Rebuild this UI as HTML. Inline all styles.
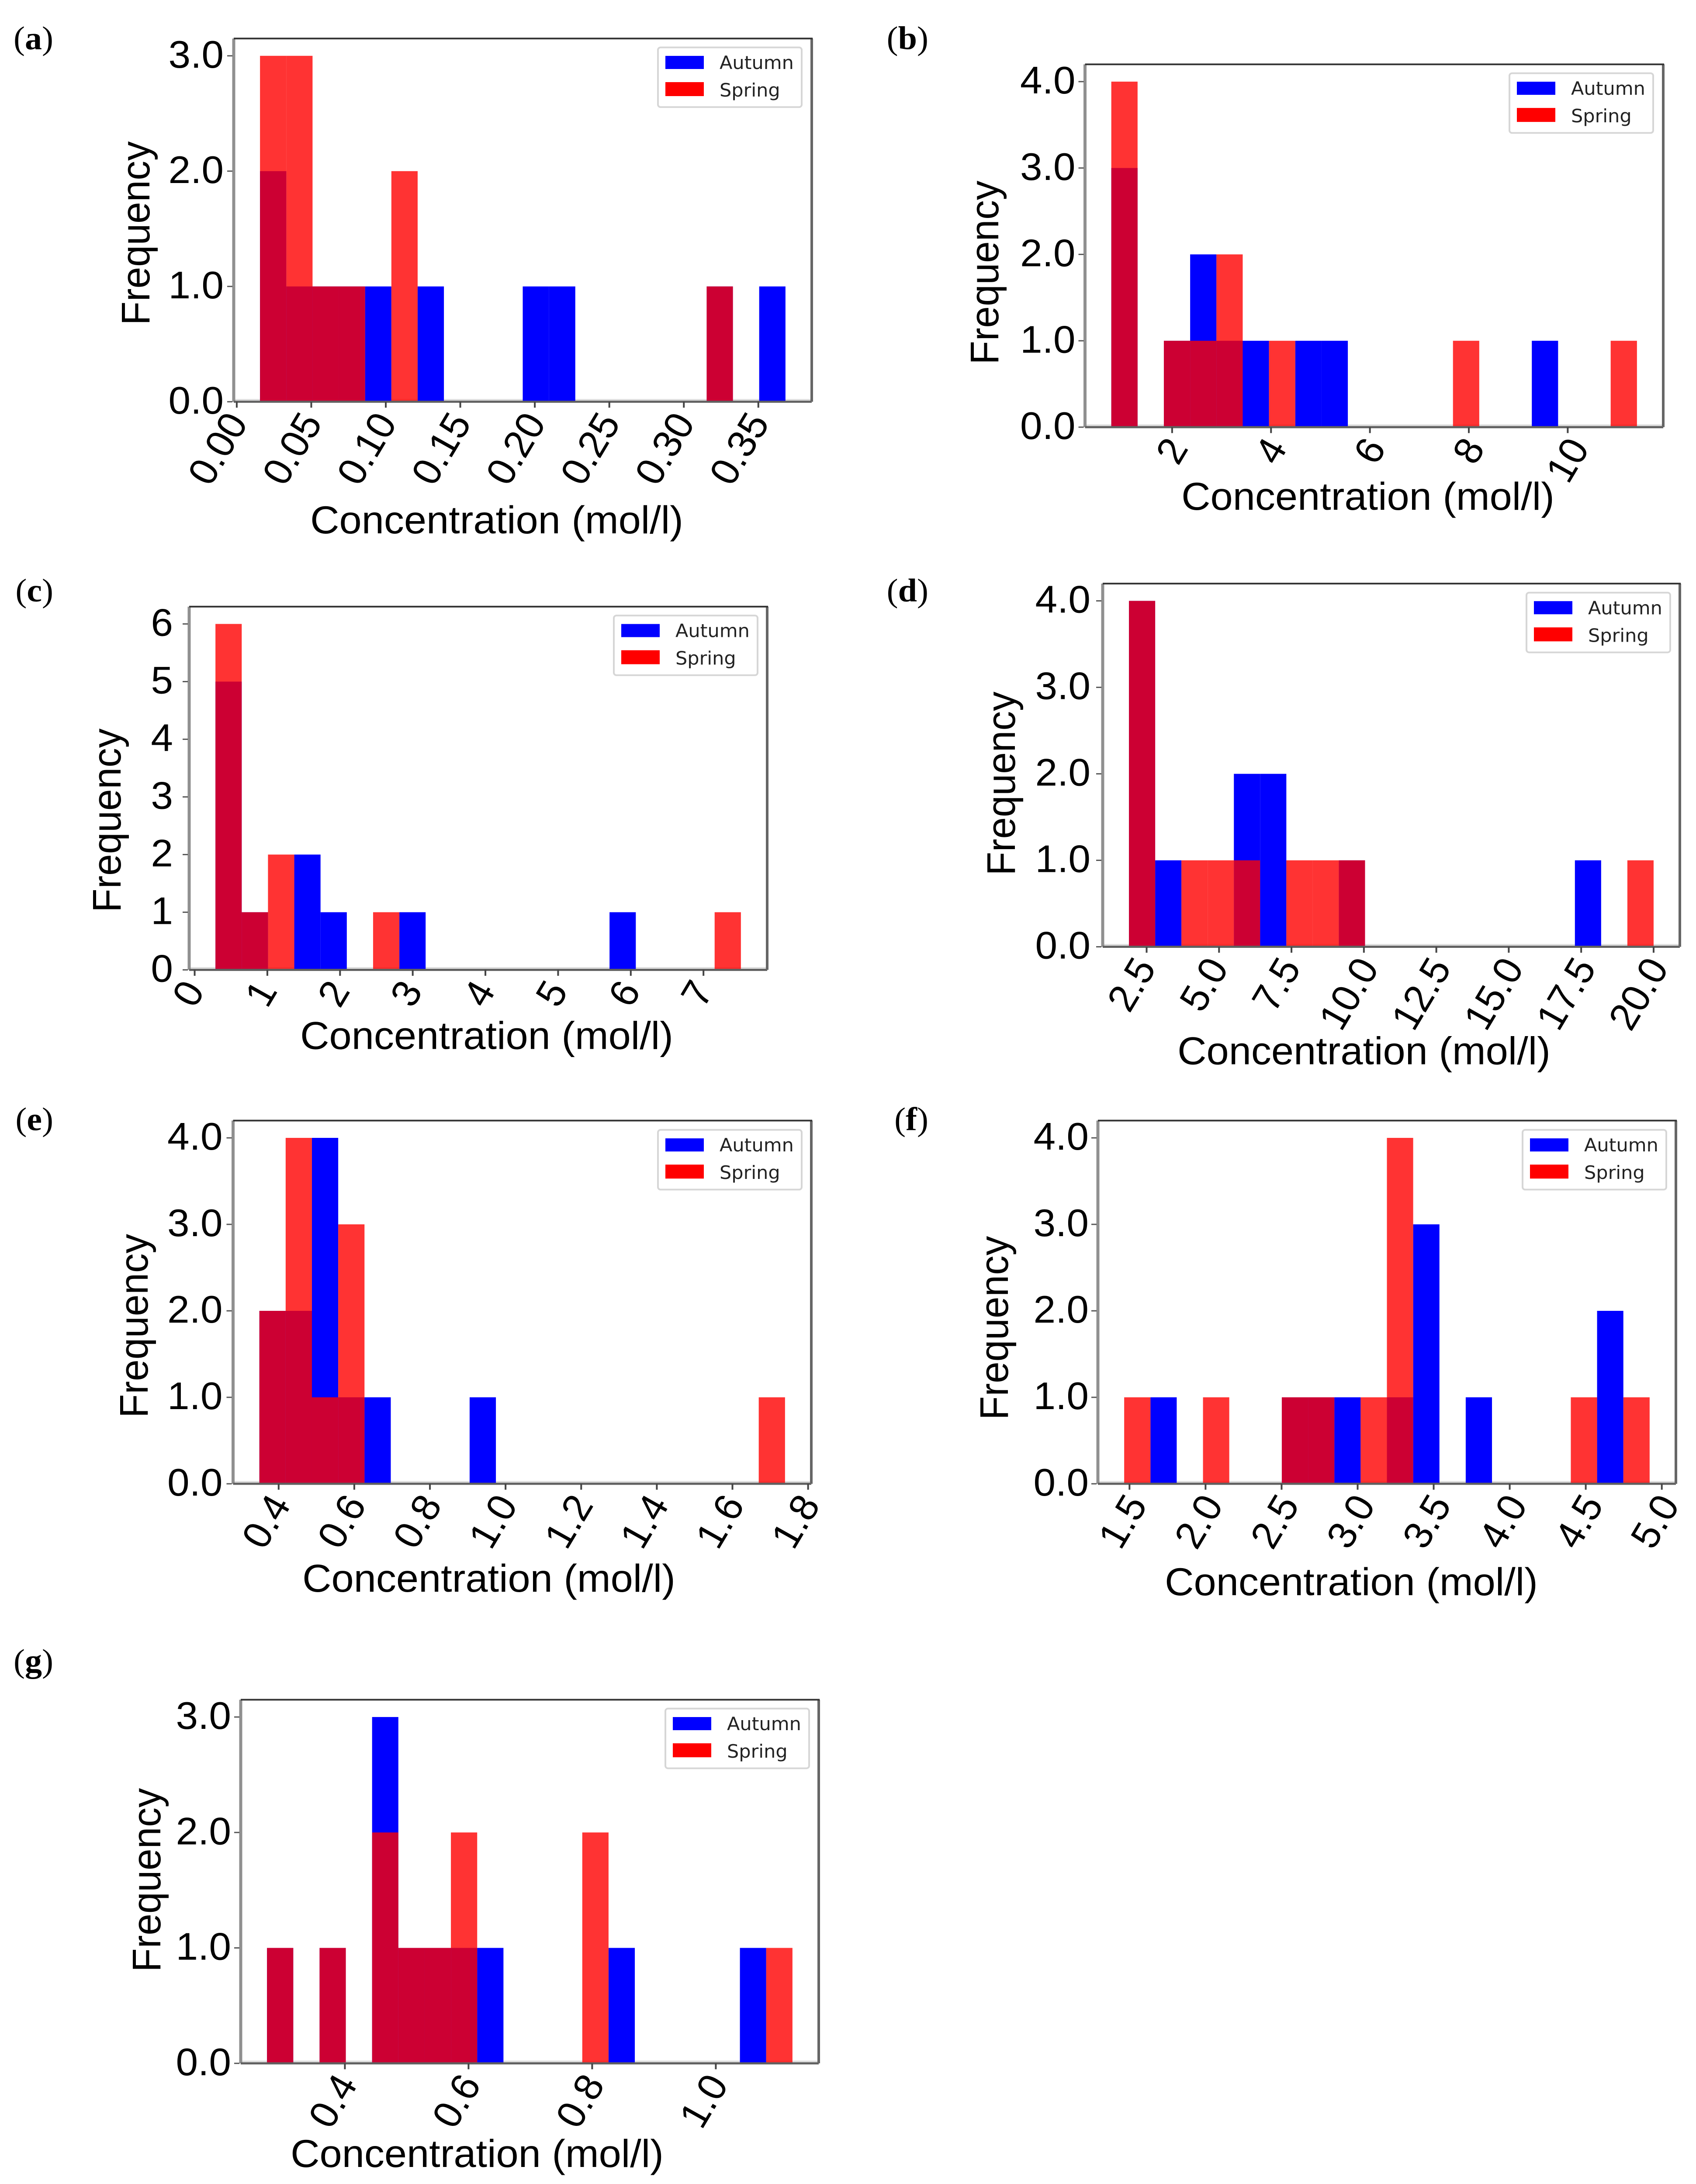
<!DOCTYPE html>
<html lang="en">
<head>
<meta charset="utf-8">
<title>Autumn and Spring concentration histograms</title>
<style>
html,body{margin:0;padding:0;background:#fff;overflow:hidden;}
#stage{position:absolute;left:0;top:0;width:3882px;height:5159px;overflow:hidden;transform-origin:0 0;}
svg{display:block;}
.axis-text{font-family:"Liberation Sans",Arial,sans-serif;font-size:92px;fill:#000;}
.tick-text{font-family:"Liberation Sans",Arial,sans-serif;font-size:91px;fill:#000;}
.rot-text{font-family:"Liberation Sans",Arial,sans-serif;font-size:91px;fill:#000;}
.leg-text{font-family:"DejaVu Sans",sans-serif;font-size:43px;fill:#222;}
.letter{font-family:"Liberation Serif",serif;font-size:78px;fill:#000;}
.letter tspan{font-weight:bold;}
</style>
</head>
<body>
<div id="stage">
<svg xmlns="http://www.w3.org/2000/svg" width="3882" height="5159" viewBox="0 0 3882 5159">
<rect width="3882" height="5159" fill="#fff"/>

<g>
  <g id="marks-a"></g>
  <text class="letter" x="122" y="116" text-anchor="end">(<tspan>a</tspan>)</text>
  <text class="axis-text" transform="translate(342,551) rotate(-90)" text-anchor="middle">Frequency</text>
  <text class="axis-text" x="1137" y="1260" text-anchor="middle">Concentration (mol/l)</text>
  <g transform="translate(1506,112)">
    <rect width="329" height="141" rx="6" fill="#fff" stroke="#d6d6d6" stroke-width="4"/>
    <rect x="17" y="20" width="88" height="31" fill="#00f"/>
    <rect x="17" y="82" width="88" height="33" fill="#f00"/>
    <text class="leg-text" x="141" y="51">Autumn</text>
    <text class="leg-text" x="141" y="116">Spring</text>
  </g>
</g>

<g>
  <g id="marks-b"></g>
  <text class="letter" x="2125" y="116" text-anchor="end">(<tspan>b</tspan>)</text>
  <text class="axis-text" transform="translate(2285,644) rotate(-90)" text-anchor="middle">Frequency</text>
  <text class="axis-text" x="3131" y="1204" text-anchor="middle">Concentration (mol/l)</text>
  <g transform="translate(3455,173)">
    <rect width="329" height="141" rx="6" fill="#fff" stroke="#d6d6d6" stroke-width="4"/>
    <rect x="17" y="20" width="88" height="31" fill="#00f"/>
    <rect x="17" y="82" width="88" height="33" fill="#f00"/>
    <text class="leg-text" x="141" y="51">Autumn</text>
    <text class="leg-text" x="141" y="116">Spring</text>
  </g>
</g>

<g>
  <g id="marks-c"></g>
  <text class="letter" x="122" y="1421" text-anchor="end">(<tspan>c</tspan>)</text>
  <text class="axis-text" transform="translate(276,1938) rotate(-90)" text-anchor="middle">Frequency</text>
  <text class="axis-text" x="1114" y="2478" text-anchor="middle">Concentration (mol/l)</text>
  <g transform="translate(1405,1454)">
    <rect width="329" height="141" rx="6" fill="#fff" stroke="#d6d6d6" stroke-width="4"/>
    <rect x="17" y="20" width="88" height="31" fill="#00f"/>
    <rect x="17" y="82" width="88" height="33" fill="#f00"/>
    <text class="leg-text" x="141" y="51">Autumn</text>
    <text class="leg-text" x="141" y="116">Spring</text>
  </g>
</g>

<g>
  <g id="marks-d"></g>
  <text class="letter" x="2125" y="1421" text-anchor="end">(<tspan>d</tspan>)</text>
  <text class="axis-text" transform="translate(2323,1851) rotate(-90)" text-anchor="middle">Frequency</text>
  <text class="axis-text" x="3122" y="2514" text-anchor="middle">Concentration (mol/l)</text>
  <g transform="translate(3494,1400)">
    <rect width="329" height="141" rx="6" fill="#fff" stroke="#d6d6d6" stroke-width="4"/>
    <rect x="17" y="20" width="88" height="31" fill="#00f"/>
    <rect x="17" y="82" width="88" height="33" fill="#f00"/>
    <text class="leg-text" x="141" y="51">Autumn</text>
    <text class="leg-text" x="141" y="116">Spring</text>
  </g>
</g>

<g>
  <g id="marks-e"></g>
  <text class="letter" x="122" y="2670" text-anchor="end">(<tspan>e</tspan>)</text>
  <text class="axis-text" transform="translate(338,3132) rotate(-90)" text-anchor="middle">Frequency</text>
  <text class="axis-text" x="1119" y="3760" text-anchor="middle">Concentration (mol/l)</text>
  <g transform="translate(1506,2669)">
    <rect width="329" height="141" rx="6" fill="#fff" stroke="#d6d6d6" stroke-width="4"/>
    <rect x="17" y="20" width="88" height="31" fill="#00f"/>
    <rect x="17" y="82" width="88" height="33" fill="#f00"/>
    <text class="leg-text" x="141" y="51">Autumn</text>
    <text class="leg-text" x="141" y="116">Spring</text>
  </g>
</g>

<g>
  <g id="marks-f"></g>
  <text class="letter" x="2125" y="2670" text-anchor="end">(<tspan>f</tspan>)</text>
  <text class="axis-text" transform="translate(2307,3137) rotate(-90)" text-anchor="middle">Frequency</text>
  <text class="axis-text" x="3093" y="3768" text-anchor="middle">Concentration (mol/l)</text>
  <g transform="translate(3485,2669)">
    <rect width="329" height="141" rx="6" fill="#fff" stroke="#d6d6d6" stroke-width="4"/>
    <rect x="17" y="20" width="88" height="31" fill="#00f"/>
    <rect x="17" y="82" width="88" height="33" fill="#f00"/>
    <text class="leg-text" x="141" y="51">Autumn</text>
    <text class="leg-text" x="141" y="116">Spring</text>
  </g>
</g>

<g>
  <g id="marks-g"></g>
  <text class="letter" x="122" y="3949" text-anchor="end">(<tspan>g</tspan>)</text>
  <text class="axis-text" transform="translate(367,4441) rotate(-90)" text-anchor="middle">Frequency</text>
  <text class="axis-text" x="1092" y="5119" text-anchor="middle">Concentration (mol/l)</text>
  <g transform="translate(1523,4036)">
    <rect width="329" height="141" rx="6" fill="#fff" stroke="#d6d6d6" stroke-width="4"/>
    <rect x="17" y="20" width="88" height="31" fill="#00f"/>
    <rect x="17" y="82" width="88" height="33" fill="#f00"/>
    <text class="leg-text" x="141" y="51">Autumn</text>
    <text class="leg-text" x="141" y="116">Spring</text>
  </g>
</g>
</svg>
</div>

<script>
// Panel (a)
const aRange = [0.0156, 0.3682];
const aAutumn = [2,1,1,1,1,0,1,0,0,0,1,1,0,0,0,0,0,1,0,1];
const aSpring = [3,3,1,1,0,2,0,0,0,0,0,0,0,0,0,0,0,1,0,0];
const aXTicks = [0,0.05,0.1,0.15,0.2,0.25,0.3,0.35];
const aXLabels = ['0.00','0.05','0.10','0.15','0.20','0.25','0.30','0.35'];
const aYTicks = [0,1,2,3];
const aYLabels = ['0.0','1.0','2.0','3.0'];

// Panel (b)
const bRange = [0.77, 11.4];
const bAutumn = [3,0,1,2,1,1,0,1,1,0,0,0,0,0,0,0,1,0,0,0];
const bSpring = [4,0,1,1,2,0,1,0,0,0,0,0,0,1,0,0,0,0,0,1];
const bXTicks = [2,4,6,8,10];
const bXLabels = ['2','4','6','8','10'];
const bYTicks = [0,1,2,3,4];
const bYLabels = ['0.0','1.0','2.0','3.0','4.0'];

// Panel (c)
const cRange = [0.286, 7.515];
const cAutumn = [5,1,0,2,1,0,0,1,0,0,0,0,0,0,0,1,0,0,0,0];
const cSpring = [6,1,2,0,0,0,1,0,0,0,0,0,0,0,0,0,0,0,0,1];
const cXTicks = [0,1,2,3,4,5,6,7];
const cXLabels = ['0','1','2','3','4','5','6','7'];
const cYTicks = [0,1,2,3,4,5,6];
const cYLabels = ['0','1','2','3','4','5','6'];

// Panel (d)
const dRange = [1.89, 20];
const dAutumn = [4,1,0,0,2,2,0,0,1,0,0,0,0,0,0,0,0,1,0,0];
const dSpring = [4,0,1,1,1,0,1,1,1,0,0,0,0,0,0,0,0,0,0,1];
const dXTicks = [2.5,5,7.5,10,12.5,15,17.5,20];
const dXLabels = ['2.5','5.0','7.5','10.0','12.5','15.0','17.5','20.0'];
const dYTicks = [0,1,2,3,4];
const dYLabels = ['0.0','1.0','2.0','3.0','4.0'];

// Panel (e)
const eRange = [0.349, 1.739];
const eAutumn = [2,2,4,1,1,0,0,0,1,0,0,0,0,0,0,0,0,0,0,0];
const eSpring = [2,4,1,3,0,0,0,0,0,0,0,0,0,0,0,0,0,0,0,1];
const eXTicks = [0.4,0.6,0.8,1,1.2,1.4,1.6,1.8];
const eXLabels = ['0.4','0.6','0.8','1.0','1.2','1.4','1.6','1.8'];
const eYTicks = [0,1,2,3,4];
const eYLabels = ['0.0','1.0','2.0','3.0','4.0'];

// Panel (f)
const fRange = [1.465, 4.92];
const fAutumn = [0,1,0,0,0,0,1,1,1,0,1,3,0,1,0,0,0,0,2,0];
const fSpring = [1,0,0,1,0,0,1,1,0,1,4,0,0,0,0,0,0,1,0,1];
const fXTicks = [1.5,2,2.5,3,3.5,4,4.5,5];
const fXLabels = ['1.5','2.0','2.5','3.0','3.5','4.0','4.5','5.0'];
const fYTicks = [0,1,2,3,4];
const fYLabels = ['0.0','1.0','2.0','3.0','4.0'];

// Panel (g)
const gRange = [0.274, 1.124];
const gAutumn = [1,0,1,0,3,1,1,1,1,0,0,0,0,1,0,0,0,0,1,0];
const gSpring = [1,0,1,0,2,1,1,2,0,0,0,0,2,0,0,0,0,0,0,1];
const gXTicks = [0.4,0.6,0.8,1];
const gXLabels = ['0.4','0.6','0.8','1.0'];
const gYTicks = [0,1,2,3];
const gYLabels = ['0.0','1.0','2.0','3.0'];

const panels = [
  {id:'a',range:aRange,autumn:aAutumn,spring:aSpring,xt:aXTicks,xl:aXLabels,yt:aYTicks,yl:aYLabels,box:{l:535,r:1858,t:91,b:949},yGap:23,xDx:-45},
  {id:'b',range:bRange,autumn:bAutumn,spring:bSpring,xt:bXTicks,xl:bXLabels,yt:bYTicks,yl:bYLabels,box:{l:2483.5,r:3807,t:152,b:1009},yGap:22,xDx:-2},
  {id:'c',range:cRange,autumn:cAutumn,spring:cSpring,xt:cXTicks,xl:cXLabels,yt:cYTicks,yl:cYLabels,box:{l:433,r:1756,t:1433,b:2291},yGap:37,xDx:-16},
  {id:'d',range:dRange,autumn:dAutumn,spring:dSpring,xt:dXTicks,xl:dXLabels,yt:dYTicks,yl:dYLabels,box:{l:2524,r:3845,t:1378.5,b:2236.5},yGap:28,xDx:-36},
  {id:'e',range:eRange,autumn:eAutumn,spring:eSpring,xt:eXTicks,xl:eXLabels,yt:eYTicks,yl:eYLabels,box:{l:533.5,r:1857,t:2647,b:3505},yGap:24,xDx:-30},
  {id:'f',range:fRange,autumn:fAutumn,spring:fSpring,xt:fXTicks,xl:fXLabels,yt:fYTicks,yl:fYLabels,box:{l:2513,r:3836,t:2647,b:3505},yGap:21,xDx:-17},
  {id:'g',range:gRange,autumn:gAutumn,spring:gSpring,xt:gXTicks,xl:gXLabels,yt:gYTicks,yl:gYLabels,box:{l:551,r:1874,t:4015,b:4874},yGap:22,xDx:-29}
];

const NS = 'http://www.w3.org/2000/svg';

function make(parent, tag, attrs, content) {
  const node = document.createElementNS(NS, tag);
  for (const key in attrs) node.setAttribute(key, attrs[key]);
  if (content !== undefined) node.textContent = content;
  parent.appendChild(node);
  return node;
}

function drawSeries(root, p, counts, seriesName, color, opacity, xScale, yScale) {
  const binCount = counts.length;
  const step = (p.range[1] - p.range[0]) / binCount;
  counts.forEach(function (count, i) {
    if (!count) return;
    const x0 = xScale(p.range[0] + i * step);
    const x1 = xScale(p.range[0] + (i + 1) * step);
    const el = make(root, 'rect', {x: x0, y: yScale(count), width: x1 - x0, height: yScale(0) - yScale(count), fill: color, 'fill-opacity': opacity});
    
    
  });
}

panels.forEach(function (p) {
  const root = document.getElementById('marks-' + p.id);
  const b = p.box;
  const span = p.range[1] - p.range[0];
  const xLo = p.range[0] - 0.05 * span;
  const xHi = p.range[1] + 0.05 * span;
  const yHi = Math.max.apply(null, p.yt) * 1.05;
  const xScale = function (v) { return b.l + (v - xLo) / (xHi - xLo) * (b.r - b.l); };
  const yScale = function (v) { return b.b - v / yHi * (b.b - b.t); };

  const halo = make(root, 'line', {x1: b.l, y1: b.b - 4, x2: b.r, y2: b.b - 4, stroke: '#dcdcdc', 'stroke-width': 5});
  
  

  drawSeries(root, p, p.autumn, 'autumn', '#0000ff', 1, xScale, yScale);
  drawSeries(root, p, p.spring, 'spring', '#ff0000', 0.8, xScale, yScale);

  const spines = [
    ['spine-left', b.l, b.t, b.l, b.b, '#909090', 7],
    ['spine-bottom', b.l, b.b, b.r, b.b, '#606060', 5],
    ['spine-right', b.r, b.t, b.r, b.b, '#666', 6],
    ['spine-top', b.l, b.t, b.r + 2, b.t, '#333', 4]
  ];
  spines.forEach(function (s) {
    const el = make(root, 'line', {x1: s[1], y1: s[2], x2: s[3], y2: s[4], stroke: s[5], 'stroke-width': s[6]});
    
    
  });

  p.yt.forEach(function (v, i) {
    const y = yScale(v);
    const tick = make(root, 'line', {x1: b.l - 15, y1: y, x2: b.l - 3, y2: y, stroke: '#555', 'stroke-width': 3});
    
    
    const label = make(root, 'text', {x: b.l - p.yGap, y: y + 28, 'text-anchor': 'end', class: 'tick-text'}, p.yl[i]);
    
    
  });

  p.xt.forEach(function (v, i) {
    const x = xScale(v);
    const tick = make(root, 'line', {x1: x, y1: b.b, x2: x, y2: b.b + 14, stroke: '#444', 'stroke-width': 4});
    
    
    const label = make(root, 'text', {'text-anchor': 'middle', class: 'rot-text', dy: '0.358em'}, p.xl[i]);
    
    
    const len = label.getComputedTextLength();
    const capH = 0.716 * 91;
    const cy = b.b + 17 + (0.866 * len + 0.5 * capH) / 2;
    label.setAttribute('transform', 'translate(' + (x + p.xDx) + ',' + cy + ') rotate(-60)');
  });
});

// Fit the figure to the frame if the viewport is shorter or narrower than the figure
(function () {
  const sx = Math.min(1, window.innerWidth / 3882);
  const sy = Math.min(1, window.innerHeight / 5159);
  if (sx < 1 || sy < 1) {
    document.getElementById('stage').style.transform = 'scale(' + sx + ',' + sy + ')';
  }
})();
</script>
</body>
</html>
